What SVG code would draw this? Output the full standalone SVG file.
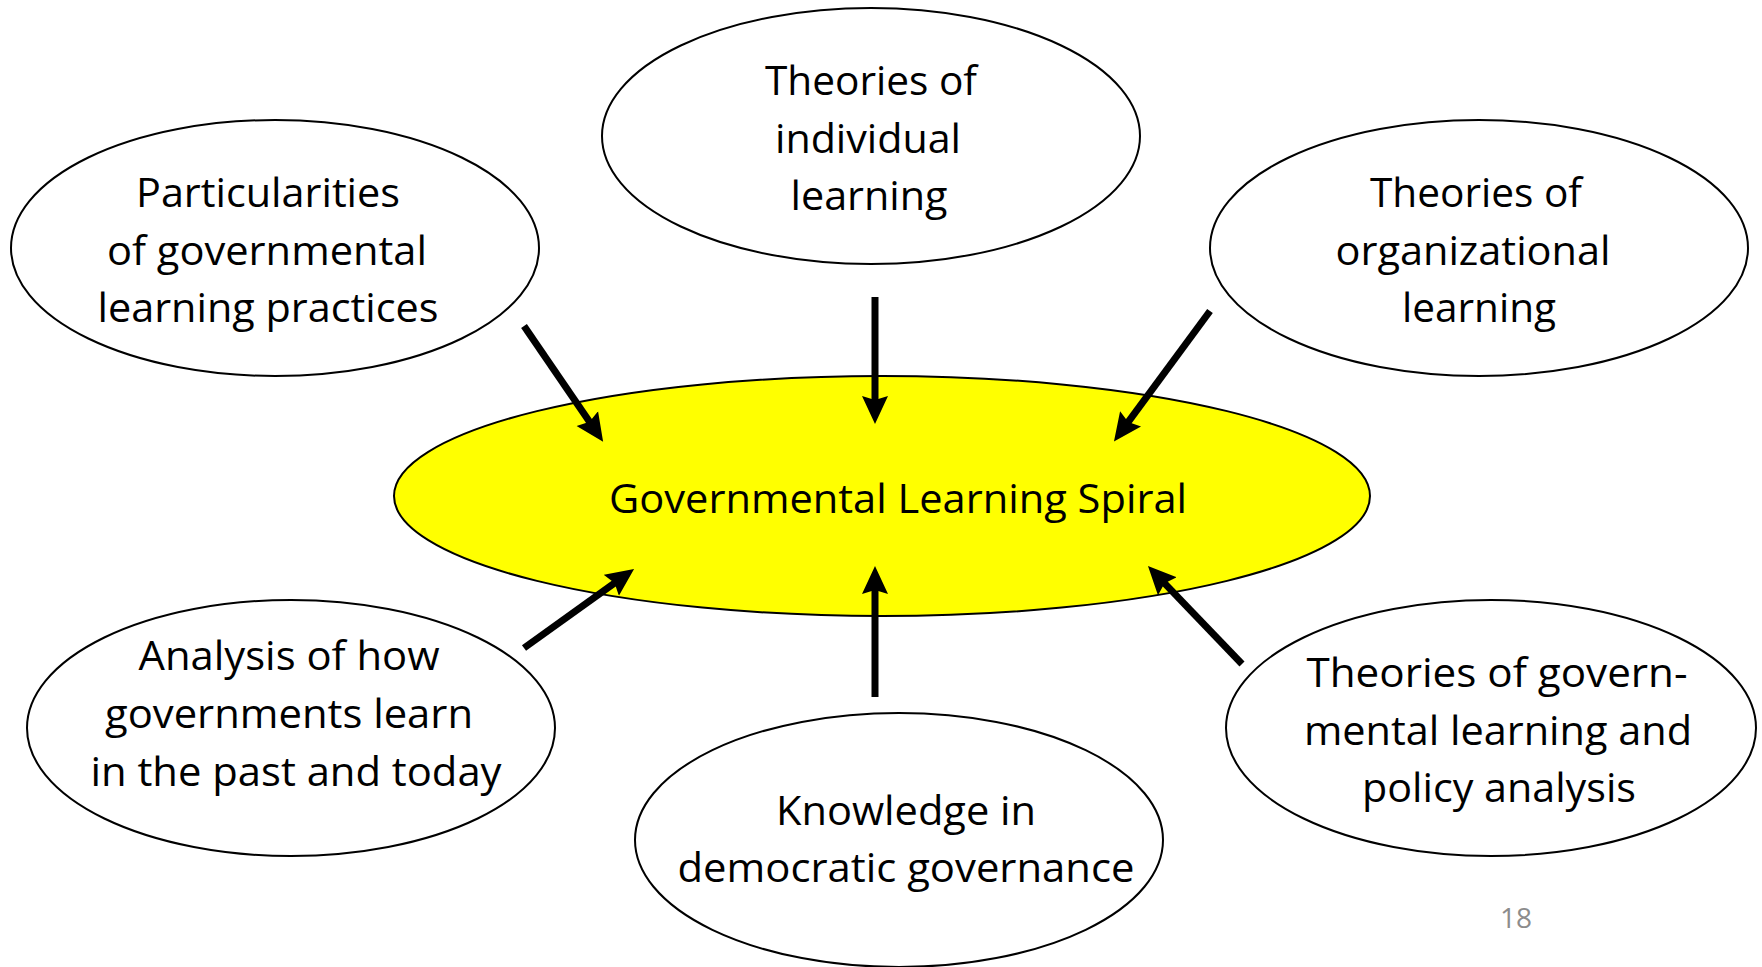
<svg xmlns="http://www.w3.org/2000/svg" width="1762" height="967" viewBox="0 0 1762 967">
<style>
.node{fill:#ffffff;stroke:#000000;stroke-width:2}
.core{fill:#ffff00;stroke:#000000;stroke-width:2}
.t{font-family:"Open Sans","Noto Sans","Liberation Sans",sans-serif;font-size:40px;fill:#000000;text-anchor:middle}
.tc{font-family:"Open Sans","Noto Sans","Liberation Sans",sans-serif;font-size:41px;fill:#000000;text-anchor:middle}
.pg{font-family:"Open Sans","Noto Sans","Liberation Sans",sans-serif;font-size:28px;fill:#8c8c8c;text-anchor:middle}
.arr{stroke:#000000;stroke-width:7;fill:none;marker-end:url(#ah)}
</style>
<defs>
<marker id="ah" markerUnits="userSpaceOnUse" markerWidth="30" markerHeight="28" viewBox="0 0 30 28" refX="6" refY="14" orient="auto">
<path d="M0,1 L28,14 L0,27 L4,14 z" fill="#000000"/>
</marker>
</defs>
<rect width="1762" height="967" fill="#ffffff"/>
<g id="node-particularities">
<ellipse class="node" cx="275" cy="248" rx="264" ry="128"/>
<text class="t" x="268" y="207" textLength="264" lengthAdjust="spacingAndGlyphs">Particularities</text>
<text class="t" x="267" y="265" textLength="320" lengthAdjust="spacingAndGlyphs">of governmental</text>
<text class="t" x="268" y="322" textLength="341" lengthAdjust="spacingAndGlyphs">learning practices</text>
</g>
<g id="node-individual">
<ellipse class="node" cx="871" cy="136" rx="269" ry="128"/>
<text class="t" x="871" y="95" textLength="212" lengthAdjust="spacingAndGlyphs">Theories of</text>
<text class="t" x="868" y="153" textLength="186" lengthAdjust="spacingAndGlyphs">individual</text>
<text class="t" x="869" y="210" textLength="157" lengthAdjust="spacingAndGlyphs">learning</text>
</g>
<g id="node-organizational">
<ellipse class="node" cx="1479" cy="248" rx="269" ry="128"/>
<text class="t" x="1476" y="207" textLength="212" lengthAdjust="spacingAndGlyphs">Theories of</text>
<text class="t" x="1473" y="265" textLength="275" lengthAdjust="spacingAndGlyphs">organizational</text>
<text class="t" x="1479" y="322" textLength="154" lengthAdjust="spacingAndGlyphs">learning</text>
</g>
<g id="node-analysis">
<ellipse class="node" cx="291" cy="728" rx="264" ry="128"/>
<text class="t" x="289" y="670" textLength="301" lengthAdjust="spacingAndGlyphs">Analysis of how</text>
<text class="t" x="289" y="728" textLength="368" lengthAdjust="spacingAndGlyphs">governments learn</text>
<text class="t" x="296" y="786" textLength="411" lengthAdjust="spacingAndGlyphs">in the past and today</text>
</g>
<g id="node-knowledge">
<ellipse class="node" cx="899" cy="840" rx="264" ry="127"/>
<text class="t" x="906" y="825" textLength="260" lengthAdjust="spacingAndGlyphs">Knowledge in</text>
<text class="t" x="906" y="882" textLength="457" lengthAdjust="spacingAndGlyphs">democratic governance</text>
</g>
<g id="node-governmental-theories">
<ellipse class="node" cx="1491" cy="728" rx="265" ry="128"/>
<text class="t" x="1497" y="687" textLength="381" lengthAdjust="spacingAndGlyphs">Theories of govern-</text>
<text class="t" x="1498" y="745" textLength="388" lengthAdjust="spacingAndGlyphs">mental learning and</text>
<text class="t" x="1499" y="802" textLength="274" lengthAdjust="spacingAndGlyphs">policy analysis</text>
</g>
<g id="node-spiral">
<ellipse class="core" cx="882" cy="496" rx="488" ry="120"/>
<text class="tc" x="898" y="513" textLength="578" lengthAdjust="spacingAndGlyphs">Governmental Learning Spiral</text>
</g>
<g id="connectors">
<line class="arr" x1="524" y1="326" x2="590.7" y2="423.5"/>
<line class="arr" x1="875" y1="297" x2="875" y2="402"/>
<line class="arr" x1="1210" y1="311" x2="1127" y2="423.7"/>
<line class="arr" x1="524" y1="648" x2="616.2" y2="581.8"/>
<line class="arr" x1="875" y1="697" x2="875" y2="588"/>
<line class="arr" x1="1242" y1="664" x2="1163.2" y2="581.8"/>
</g>
<text class="pg" x="1516" y="928">18</text>
</svg>
